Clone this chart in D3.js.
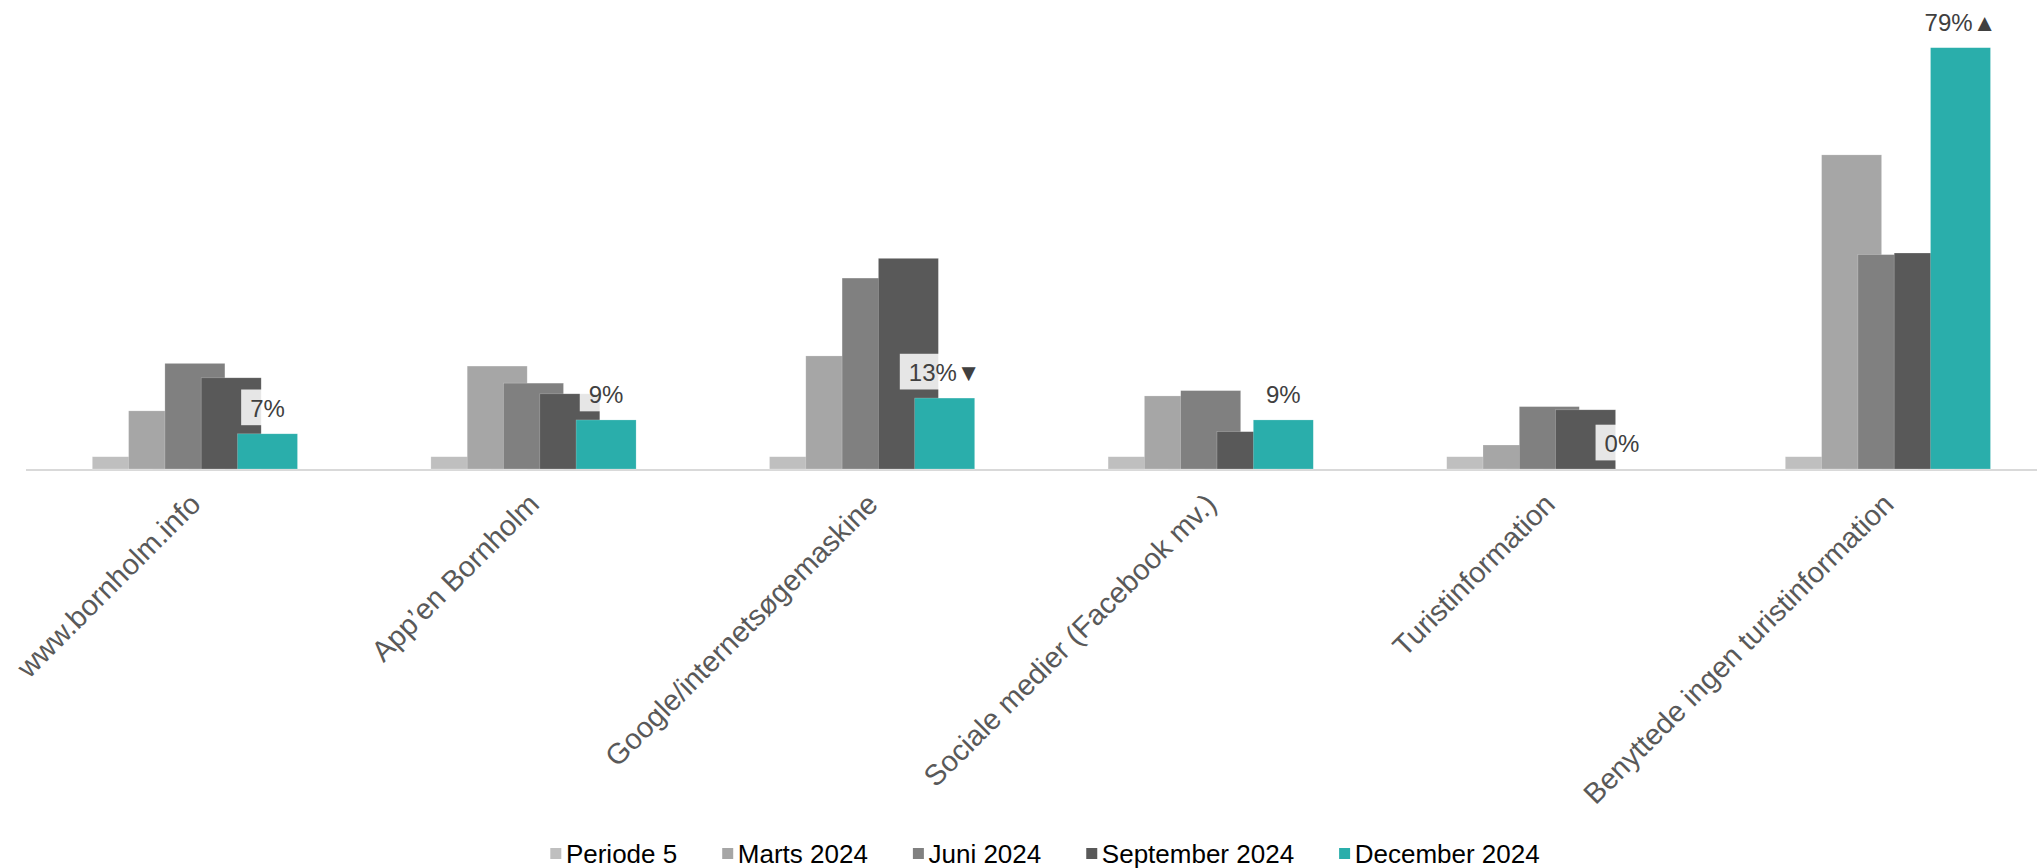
<!DOCTYPE html>
<html><head><meta charset="utf-8">
<script src="https://cdn.jsdelivr.net/npm/d3@7"></script>
<style>html,body{margin:0;padding:0;background:#fff;overflow:hidden;} svg{display:block;}</style>
</head><body><svg id="c" width="2037" height="868"></svg>
<script>
const categories = ["www.bornholm.info","App’en Bornholm","Google/internetsøgemaskine","Sociale medier (Facebook mv.)","Turistinformation","Benyttede ingen turistinformation"];
const seriesNames = ["Periode 5","Marts 2024","Juni 2024","September 2024","December 2024"];
const periode5 = [2.3,2.3,2.3,2.3,2.3,2.3];
const marts2024 = [10.9,19.3,21.2,13.7,4.5,58.9];
const juni2024 = [19.8,16.1,35.8,14.7,11.7,40.2];
const september2024 = [17.1,14.1,39.5,7.0,11.1,40.5];
const december2024 = [6.6,9.2,13.3,9.2,0,79];
const decLabels = ["7%","9%","13%▼","9%","0%","79%▲"];
const colors = ["#bfbfbf","#a6a6a6","#808080","#595959","#2aaeab"];

const seriesValues = [periode5, marts2024, juni2024, september2024, december2024];
const FONT = "'Liberation Sans', Arial, Helvetica, sans-serif";

const svg = d3.select("#c");
const baseY = 469;
const x0 = d3.scaleBand().domain(categories).range([26, 2057.6]).padding(0);
const xs = d3.scaleLinear().domain([0, seriesNames.length - 1]).range([-103, 42.2]);
const barW = 60;
const y = d3.scaleLinear().domain([0, 80]).range([baseY, baseY - 80 * 5.333]);

const center = c => x0(c) + x0.bandwidth() / 2;

// baseline
svg.append("line").attr("x1", 26).attr("x2", 2037).attr("y1", baseY + 1).attr("y2", baseY + 1)
  .attr("stroke", "#d9d9d9").attr("stroke-width", 2);

// bars
seriesValues.forEach((vals, s) => {
  svg.append("g").selectAll("rect").data(vals).join("rect")
    .attr("x", (d, i) => center(categories[i]) + xs(s))
    .attr("width", barW)
    .attr("y", d => y(d))
    .attr("height", d => baseY - y(d))
    .attr("fill", colors[s])
    .attr("stroke", "#ffffff").attr("stroke-width", 0.6).attr("stroke-opacity", 0.35);
});

// data labels (December)
const lg = svg.append("g");
december2024.forEach((v, i) => {
  const cx = center(categories[i]) + xs(4) + barW / 2;
  const by = y(v) - 17;
  const g = lg.append("g");
  const rect = g.append("rect");
  const t = g.append("text").attr("x", cx).attr("y", by).attr("text-anchor", "middle")
    .attr("font-family", FONT).attr("font-size", 24).attr("fill", "#404040").text(decLabels[i]);
  const bb = t.node().getBBox();
  rect.attr("x", bb.x - 9).attr("width", bb.width + 18).attr("y", by - 27.3).attr("height", 35.7)
    .attr("fill", "#ffffff").attr("fill-opacity", 0.85);
});

// category labels
svg.append("g").selectAll("text").data(categories).join("text")
  .attr("transform", d => `translate(${center(d) + 7},${baseY + 37}) rotate(-45)`)
  .attr("text-anchor", "end")
  .attr("font-family", FONT).attr("font-size", 29).attr("fill", "#595959")
  .text(d => d);

// legend
const leg = svg.append("g");
const items = seriesNames.map((n, i) => {
  const g = leg.append("g");
  g.append("rect").attr("x", 0).attr("y", -15).attr("width", 11).attr("height", 11).attr("fill", colors[i]);
  const t = g.append("text").attr("x", 15.6).attr("y", 0).attr("font-family", FONT).attr("font-size", 26)
    .attr("fill", "#000").text(n);
  return {g, w: 15.6 + t.node().getComputedTextLength()};
});
const gap = 45;
const total = d3.sum(items, d => d.w) + gap * (items.length - 1);
let lx = 1045 - total / 2;
items.forEach(it => { it.g.attr("transform", `translate(${lx},863)`); lx += it.w + gap; });
</script></body></html>
